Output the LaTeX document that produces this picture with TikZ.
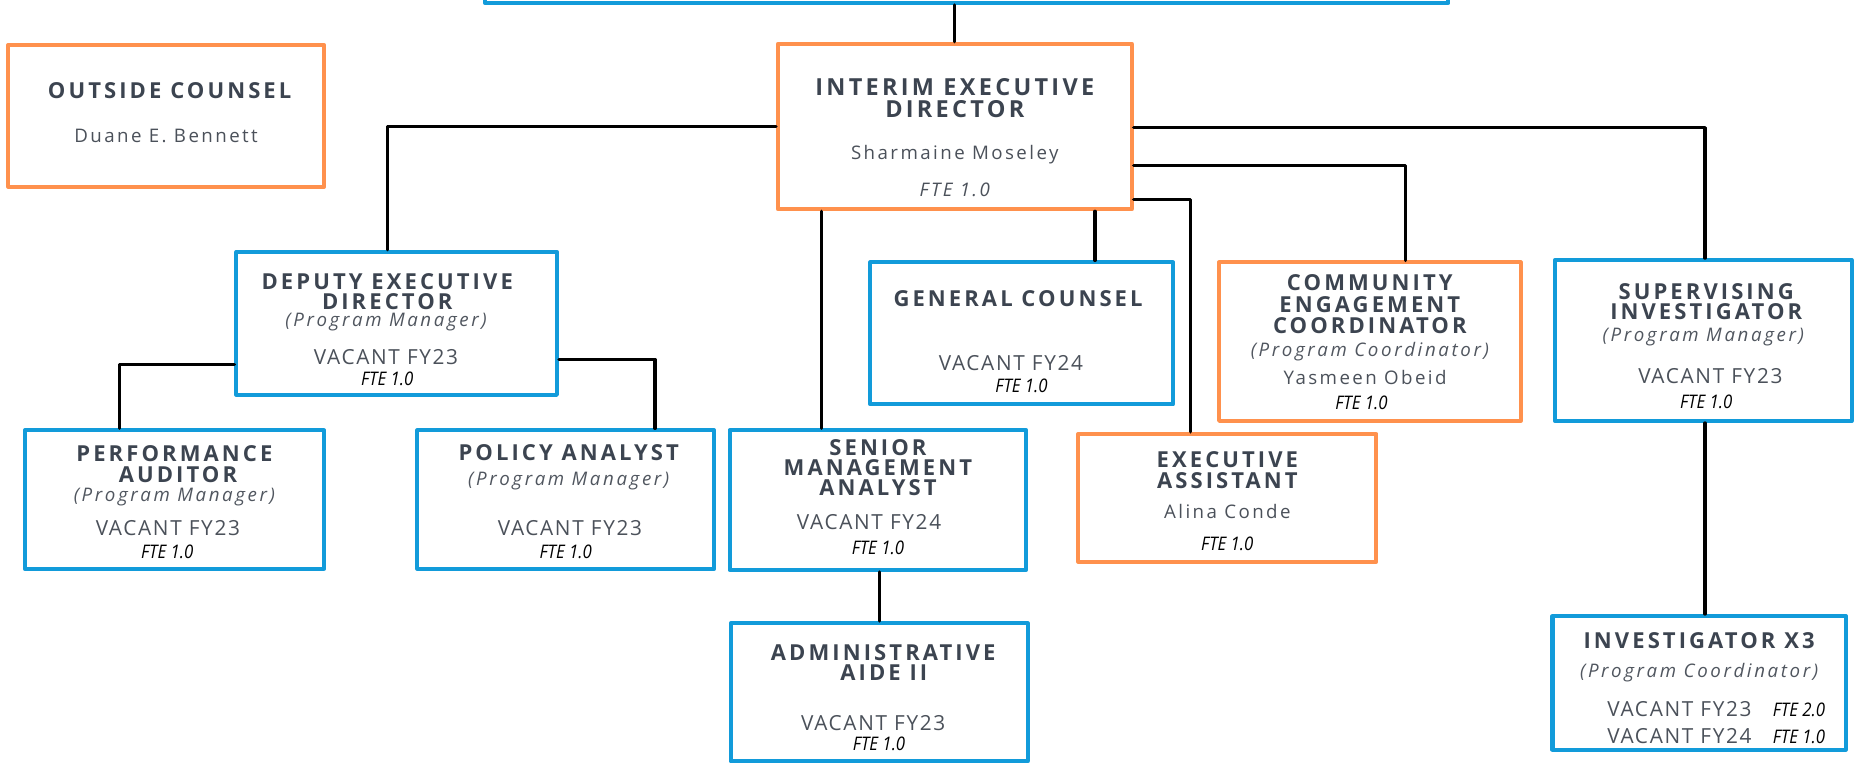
\documentclass[tikz,border=0pt]{standalone}
\usepackage{fontspec}
\setmainfont{Open Sans}
\newfontfamily\ttlfam[LetterSpace=14]{Open Sans}
\newfontfamily\txtfam[LetterSpace=13]{Open Sans}
\newfontfamily\vacfam[LetterSpace=8]{Open Sans}
\newfontfamily\rolefam[LetterSpace=14]{Open Sans}
\newfontfamily\ftefam[FakeStretch=0.9]{Open Sans}
\usetikzlibrary{positioning}

\definecolor{boxblue}{RGB}{18,155,218}
\definecolor{boxorange}{RGB}{255,145,77}
\definecolor{ink}{RGB}{60,68,80}
\definecolor{inksoft}{RGB}{75,81,90}
\definecolor{inkrole}{RGB}{80,86,95}

\newdimen\un \un=0.2mm
% text pieces
\newcommand\ttl[2][10.6]{{\ttlfam\bfseries\fontsize{#1}{15\un}\selectfont\color{ink}#2}}
\newcommand\who[2][9]{{\txtfam\fontsize{#1}{15\un}\selectfont\color{inksoft}#2}}
\newcommand\vac[1]{{\vacfam\fontsize{10}{15\un}\selectfont\color{inksoft}#1}}
\newcommand\role[1]{{\rolefam\itshape\fontsize{9}{15\un}\selectfont\color{inkrole}#1}}
\newcommand\fte[1]{{\ftefam\itshape\fontsize{9}{15\un}\selectfont\color{black}#1}}
\newcommand\ftewide[1]{{\txtfam\itshape\fontsize{9}{15\un}\selectfont\color{inksoft}#1}}
% struts: reach the top / bottom edge of a box
\newcommand\tp[1]{\rule{0pt}{#1\un}}
\newcommand\bt[1]{\rule[-#1\un]{0pt}{#1\un}}
\newcommand\nudge[1]{\hspace*{#1\un}}
\newcommand\tight{\lineskiplimit-100pt\relax}

\begin{document}
\begin{tikzpicture}[x=0.2mm, y=-0.2mm, line cap=round, line join=round]
  % styles
  \tikzset{
    box/.style={draw, line width=0.68mm, fill=white, align=center,
      inner xsep=2pt, inner ysep=0pt,
      font=\txtfam\fontsize{9}{15\un}\selectfont\tight},
    bluebox/.style={box, draw=boxblue},
    orangebox/.style={box, draw=boxorange},
    link/.style={line width=0.54mm, black}
  }
  \useasboundingbox (0,0) rectangle (1568,645);

  % ----- top box (cut off) -----
  \node[bluebox, minimum width=163mm, minimum height=20mm] (board) at (817.5,-47.5) {};

  % ----- first row -----
  \node[orangebox, minimum width=53.4mm, minimum height=24mm] (outside) at (140.5,98)
    {\nudge{6}\ttl{\tp{45.2}OUTSIDE COUNSEL}\\[22.5\un]\who{Duane E. Bennett\bt{37.3}}};

  \node[orangebox, minimum width=59.8mm, minimum height=28mm] (ied) at (807.5,107)
    {\ttl[11.3]{\tp{43.4}INTERIM EXECUTIVE}\\[3.9\un]\ttl[11.3]{DIRECTOR}\\[20.5\un]
     \who{Sharmaine Moseley}\\[16.6\un]\ftewide{FTE 1.0\bt{10.6}}};

  % ----- second row -----
  \node[bluebox, minimum width=54.2mm, minimum height=24.2mm] (deputy) at (335.5,273.5)
    {\nudge{-16}\ttl{\tp{31.8}DEPUTY EXECUTIVE}\\[1.6\un]\nudge{-16}\ttl{DIRECTOR}\\[-0.6\un]
     \nudge{-18}\role{(Program Manager)}\\[17.2\un]\nudge{-18}\vac{VACANT FY23}\\[3.3\un]
     \nudge{-16}\fte{FTE 1.0\bt{7.7}}};

  \node[bluebox, minimum width=51.2mm, minimum height=24mm] (general) at (864,282)
    {\nudge{-6}\ttl{\tp{37.4}GENERAL COUNSEL}\\[38.6\un]\nudge{-18}\vac{VACANT FY24}\\[3.9\un]
     \fte{FTE 1.0\bt{10.1}}};

  \node[orangebox, minimum width=51mm, minimum height=26.8mm] (community) at (1158.5,289)
    {\ttl{\tp{23.9}COMMUNITY}\\[3.3\un]\ttl{ENGAGEMENT}\\[2.8\un]\ttl{COORDINATOR}\\[4.7\un]
     \role{(Program Coordinator)}\\[8.2\un]\nudge{-8}\who{Yasmeen Obeid}\\[6.4\un]
     \nudge{-14}\fte{FTE 1.0\bt{9.7}}};

  \node[bluebox, minimum width=50.2mm, minimum height=27.2mm] (supervising) at (1440.5,288)
    {\nudge{5}\ttl{\tp{33.2}SUPERVISING}\\[1.7\un]\nudge{5}\ttl{INVESTIGATOR}\\[4.1\un]
     \role{(Program Manager)}\\[20.3\un]\nudge{12}\vac{VACANT FY23}\\[6.1\un]
     \nudge{5}\fte{FTE 1.0\bt{10.6}}};

  % ----- third row -----
  \node[bluebox, minimum width=50.6mm, minimum height=23.4mm] (perf) at (147.5,422.5)
    {\ttl{\tp{26.6}PERFORMANCE}\\[2.4\un]\nudge{6}\ttl{AUDITOR}\\[1.4\un]
     \role{(Program Manager)}\\[13.8\un]\nudge{-11}\vac{VACANT FY23}\\[4.1\un]
     \nudge{-12}\fte{FTE 1.0\bt{8.7}}};

  \node[bluebox, minimum width=50.2mm, minimum height=23.4mm] (policy) at (478.5,422.5)
    {\nudge{5}\ttl{\tp{25.2}POLICY ANALYST}\\[6.1\un]
     \nudge{5}\role{(Program Manager)}\\[27.9\un]\nudge{7}\vac{VACANT FY23}\\[4.1\un]
     \fte{FTE 1.0\bt{8.7}}};

  \node[bluebox, minimum width=50.2mm, minimum height=23.6mm] (senior) at (742.5,423)
    {\ttl{\tp{21}SENIOR}\\[1.9\un]\ttl{MANAGEMENT}\\[1.9\un]\ttl{ANALYST}\\[13.7\un]
     \nudge{-15}\vac{VACANT FY24}\\[6.2\un]\fte{FTE 1.0\bt{13.3}}};

  \node[orangebox, minimum width=50.4mm, minimum height=21.6mm] (exec) at (1038,421)
    {\ttl{\tp{28.6}EXECUTIVE}\\[2.5\un]\ttl{ASSISTANT}\\[10.4\un]
     \who{Alina Conde}\\[11.8\un]\fte{FTE 1.0\bt{9.7}}};

  % ----- bottom row -----
  \node[bluebox, minimum width=50.2mm, minimum height=23.4mm] (admin) at (743.5,585.5)
    {\nudge{7}\ttl{\tp{32}ADMINISTRATIVE}\\[1.9\un]\nudge{8}\ttl{AIDE II}\\[27.2\un]
     \nudge{-10}\vac{VACANT FY23}\\[1.4\un]\fte{FTE 1.0\bt{9.5}}};

  \node[bluebox, minimum width=49.6mm, minimum height=22.6mm] (investigator) at (1437,577.5)
    {\ttl{\tp{27.5}INVESTIGATOR X3}\\[9.5\un]\role{(Program Coordinator)}\\[17.7\un]
     \nudge{29}\vac{VACANT FY23}\hspace{18\un}\fte{FTE 2.0}\\[8.2\un]
     \nudge{29}\vac{VACANT FY24}\hspace{18\un}\fte{FTE 1.0\bt{5.1}}};

  % ----- junctions -----
  \coordinate (jL)  at (328,107);
  \coordinate (jR1) at (1442,108);
  \coordinate (jR2) at (1189,140);
  \coordinate (jR3) at (1007,169);
  \coordinate (jB1) at (695,0);
  \coordinate (jB2) at (926,0);
  \coordinate (jD1) at (101,308);
  \coordinate (jD2) at (554,304);

  % ----- connectors -----
  \draw[link] (ied.north) -- (ied.north |- board.south);
  \draw[link] (ied.west |- jL) -| (deputy.north -| jL);
  \draw[link] (ied.east |- jR1) -| (supervising.north -| jR1);
  \draw[link] (ied.east |- jR2) -| (community.north -| jR2);
  \draw[link] (ied.east |- jR3) -| (exec.north -| jR3);
  \draw[link] (ied.south -| jB1) -- (senior.north -| jB1);
  \draw[link] (ied.south -| jB2) -- (general.north -| jB2);
  \draw[link] (deputy.west |- jD1) -| (perf.north -| jD1);
  \draw[link] (deputy.east |- jD2) -| (policy.north -| jD2);
  \draw[link] (senior.south -| admin.north) -- (admin.north);
  \draw[link] (supervising.south -| jR1) -- (investigator.north -| jR1);
\end{tikzpicture}
\end{document}
